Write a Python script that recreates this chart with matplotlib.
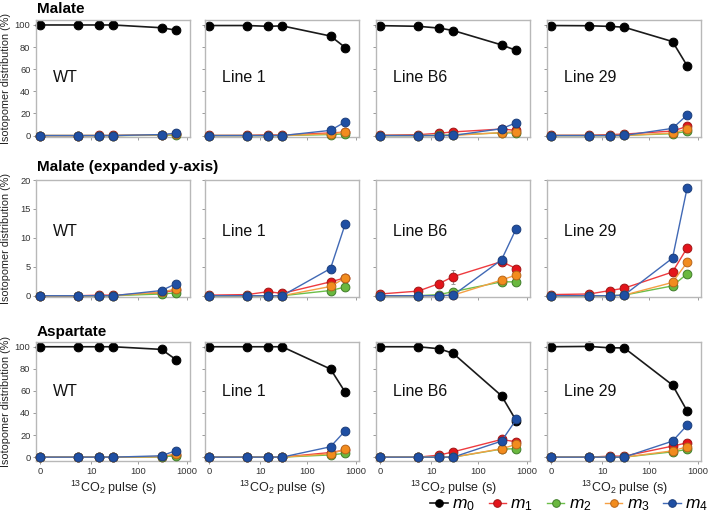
import numpy as np
import matplotlib
matplotlib.use("Agg")
import matplotlib.pyplot as plt
from matplotlib.lines import Line2D

plt.rcParams['font.family'] = ['Liberation Sans', 'DejaVu Sans']
plt.rcParams['mathtext.fontset'] = 'custom'
plt.rcParams['mathtext.rm'] = 'Liberation Sans'
plt.rcParams['mathtext.it'] = 'Liberation Sans:italic'

# ---------------- data ----------------
times = [0, 5, 15, 30, 300, 600]
lines = ["WT", "Line 1", "Line B6", "Line 29"]
series_names = ["$m_0$", "$m_1$", "$m_2$", "$m_3$", "$m_4$"]

# Malate, m0 (%)
mal_m0_WT = [100, 100, 100, 100, 97.5, 95.3]
mal_m0_L1 = [99.5, 99.5, 98.8, 99.2, 90.0, 79.6]
mal_m0_B6 = [99.4, 98.8, 97.2, 95.0, 82.0, 77.0]
mal_m0_L29 = [99.5, 99.3, 98.7, 98.0, 85.0, 63.0]

# Malate, m1..m4 (%)
mal_m1_WT = [0, 0, 0.1, 0.1, 0.5, 1.0]
mal_m2_WT = [0, 0, 0, 0, 0.3, 0.5]
mal_m3_WT = [0, 0, 0, 0, 0.6, 1.2]
mal_m4_WT = [0, 0, 0, 0, 0.9, 2.1]

mal_m1_L1 = [0.1, 0.2, 0.7, 0.4, 2.4, 3.1]
mal_m2_L1 = [0, 0, 0, 0, 0.9, 1.5]
mal_m3_L1 = [0, 0, 0, 0, 1.6, 3.1]
mal_m4_L1 = [0, 0, 0, 0, 4.7, 12.4]

mal_m1_B6 = [0.3, 0.8, 2.1, 3.3, 5.9, 4.7]
mal_m2_B6 = [0, 0, 0.2, 0.7, 2.4, 2.4]
mal_m3_B6 = [0, 0, 0, 0.1, 2.7, 3.6]
mal_m4_B6 = [0, 0, 0, 0.1, 6.2, 11.6]
mal_m1_B6_err = [0, 0, 0, 1.2, 0, 0]

mal_m1_L29 = [0.2, 0.3, 0.9, 1.3, 4.1, 8.3]
mal_m2_L29 = [0, 0, 0, 0.1, 1.7, 3.8]
mal_m3_L29 = [0, 0, 0, 0.1, 2.3, 5.8]
mal_m4_L29 = [0, 0, 0, 0.1, 6.5, 18.7]

# Aspartate (%)
asp_m0_WT = [100, 100, 100, 100, 97.6, 88.2]
asp_m1_WT = [0, 0, 0, 0, 0.4, 2.2]
asp_m2_WT = [0, 0, 0, 0, 0.3, 1.2]
asp_m3_WT = [0, 0, 0, 0, 0.6, 3.0]
asp_m4_WT = [0, 0, 0, 0, 1.2, 6.0]

asp_m0_L1 = [100, 100, 100, 100, 79.8, 58.8]
asp_m1_L1 = [0, 0, 0, 0, 4.2, 6.5]
asp_m2_L1 = [0, 0, 0, 0, 2.0, 3.5]
asp_m3_L1 = [0, 0, 0, 0, 3.0, 7.0]
asp_m4_L1 = [0, 0, 0, 0, 9.4, 23.9]

asp_m0_B6 = [100, 100, 98.2, 94.0, 55.6, 33.0]
asp_m1_B6 = [0, 0, 1.8, 4.8, 16.0, 13.9]
asp_m2_B6 = [0, 0, 0, 0, 7.3, 7.6]
asp_m3_B6 = [0, 0, 0, 0, 7.6, 11.5]
asp_m4_B6 = [0, 0, 0, 0, 14.5, 34.1]

asp_m0_L29 = [100, 100.3, 99.0, 99.0, 65.3, 41.7]
asp_m1_L29 = [0, 0, 0.9, 0.9, 10.0, 13.0]
asp_m2_L29 = [0, 0, 0, 0, 4.8, 7.0]
asp_m3_L29 = [0, 0, 0, 0, 5.7, 9.4]
asp_m4_L29 = [0, 0, 0, 0, 14.5, 29.0]

malate = {
    "WT": [mal_m0_WT, mal_m1_WT, mal_m2_WT, mal_m3_WT, mal_m4_WT],
    "Line 1": [mal_m0_L1, mal_m1_L1, mal_m2_L1, mal_m3_L1, mal_m4_L1],
    "Line B6": [mal_m0_B6, mal_m1_B6, mal_m2_B6, mal_m3_B6, mal_m4_B6],
    "Line 29": [mal_m0_L29, mal_m1_L29, mal_m2_L29, mal_m3_L29, mal_m4_L29],
}
aspartate = {
    "WT": [asp_m0_WT, asp_m1_WT, asp_m2_WT, asp_m3_WT, asp_m4_WT],
    "Line 1": [asp_m0_L1, asp_m1_L1, asp_m2_L1, asp_m3_L1, asp_m4_L1],
    "Line B6": [asp_m0_B6, asp_m1_B6, asp_m2_B6, asp_m3_B6, asp_m4_B6],
    "Line 29": [asp_m0_L29, asp_m1_L29, asp_m2_L29, asp_m3_L29, asp_m4_L29],
}

# ---------------- styles ----------------
line_colors = ["#1a1a1a", "#ee3b3f", "#6cbf4a", "#f5a044", "#4169b5"]
face_colors = ["#000000", "#e3141b", "#6ab83f", "#f28c1e", "#1f4fa3"]
edge_colors = ["#000000", "#a01515", "#3f7d2a", "#b8651a", "#1b3d7a"]
line_widths = [1.2, 1.0, 1.0, 1.0, 1.0]
frame_col = "#b8b8b8"

W, H = 709, 513
fig = plt.figure(figsize=(W / 100, H / 100), dpi=100)

col_left = [36, 205, 376, 547]
col_w = 154
rows = [(20, 137), (180, 297), (342, 461)]
ylims = [(-1.3, 104.5), (-0.22, 20), (-3.5, 104.3)]
yticks = [[0, 20, 40, 60, 80, 100], [0, 5, 10, 15, 20], [0, 20, 40, 60, 80, 100]]
label_y = [0.51, 0.56, 0.58]

fwd = lambda x: np.log10(np.asarray(x, dtype=float) + 1)
inv = lambda y: 10 ** np.asarray(y, dtype=float) - 1

for r, (top, bot) in enumerate(rows):
    for c, name in enumerate(lines):
        ax = fig.add_axes([col_left[c] / W, 1 - bot / H, col_w / W, (bot - top) / H])
        ax.set_xscale('function', functions=(fwd, inv))
        data = aspartate[name] if r == 2 else malate[name]
        start = 1 if r == 1 else 0
        for k in range(start, 5):
            yerr = mal_m1_B6_err if (r < 2 and name == "Line B6" and k == 1) else None
            ax.errorbar(times, data[k], yerr=yerr, color=line_colors[k], lw=line_widths[k],
                        marker='o', ms=6.3, mfc=face_colors[k], mec=edge_colors[k], mew=0.7,
                        ecolor="#999999", elinewidth=0.8, capsize=1.5, capthick=0.8,
                        zorder=2 + k, clip_on=False)
        ax.set_xlim(inv(-0.083), inv(3.06))
        ax.set_ylim(*ylims[r])
        ax.set_xticks([0, 10, 100, 1000])
        ax.set_yticks(yticks[r])
        ax.tick_params(axis='both', length=2.5, width=0.7, color="#9a9a9a",
                       labelsize=6.7, labelcolor="#333333", pad=1.5)
        if c == 0:
            ax.set_yticklabels([str(v) for v in yticks[r]])
            ax.set_ylabel("Isotopomer distribution (%)", fontsize=7.8, color="#222222")
            ax.yaxis.set_label_coords(-0.165, 0.5)
        else:
            ax.set_yticklabels([])
        if r == 2:
            ax.set_xticklabels(["0", "10", "100", "1000"])
            ax.set_xlabel("$^{13}$CO$_2$ pulse (s)", fontsize=9, color="#222222", labelpad=2)
        else:
            ax.set_xticklabels([])
        for sp in ax.spines.values():
            sp.set_color(frame_col)
            sp.set_linewidth(1.0)
        ax.text(0.11, label_y[r], name, transform=ax.transAxes, fontsize=11.5,
                color="#111111", va='center', ha='left')

fig.text(37 / W, 1 - 9 / H, "Malate", fontsize=11, fontweight='bold', va='center', ha='left')
fig.text(37 / W, 1 - 167 / H, "Malate (expanded y-axis)", fontsize=11, fontweight='bold',
         va='center', ha='left')
fig.text(37 / W, 1 - 332 / H, "Aspartate", fontsize=11, fontweight='bold', va='center', ha='left')

handles = [Line2D([], [], color=line_colors[k], lw=line_widths[k], marker='o', ms=5.5,
                  mfc=face_colors[k], mec=edge_colors[k], mew=0.7) for k in range(5)]
fig.legend(handles, series_names, loc='center right', bbox_to_anchor=(708 / W, 1 - 505 / H),
           ncol=5, frameon=False, fontsize=12.5, handlelength=1.0, handletextpad=0.25,
           columnspacing=0.8, borderpad=0.0, borderaxespad=0.0)

fig.savefig("out.png", dpi=100)
